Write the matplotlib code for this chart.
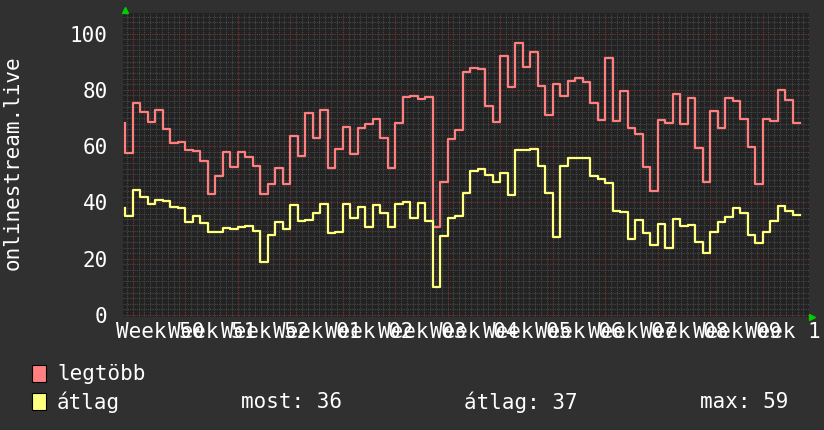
import numpy as np
import matplotlib
matplotlib.use("Agg")
import matplotlib.pyplot as plt
from matplotlib.patches import Rectangle
from matplotlib.transforms import Bbox

# daily values (first value is the start point)
legtobb = [68.1,
           57.4, 75.4, 72.2, 68.6, 72.8, 66.2, 61.2, 61.6, 58.7, 58.4, 54.8, 43.1, 49.5, 57.9, 52.7, 57.9, 56.2, 53.0,
           43.0, 46.5, 52.3, 46.5, 63.7, 56.5, 71.9, 62.9, 72.8, 52.3, 59.1, 66.9, 57.2, 66.4, 67.7, 69.7, 63.0, 52.1,
           68.4, 77.3, 77.8, 76.6, 77.6, 31.3, 47.1, 62.4, 65.7, 86.4, 87.9, 87.3, 74.2, 68.7, 92.1, 80.9, 96.7, 88.2, 93.5,
           81.5, 71.0, 82.2, 77.8, 83.2, 84.3, 82.9, 75.5, 69.3, 91.4, 69.0, 79.7, 66.5, 64.3, 52.7, 44.2, 69.3, 68.3,
           78.5, 67.9, 77.2, 59.4, 47.2, 72.6, 66.4, 77.1, 76.1, 69.7, 59.8, 46.5, 69.7, 68.8, 79.9, 76.5, 68.3]
atlag = [38.2,
         35.3, 44.4, 42.0, 39.5, 40.9, 40.5, 38.5, 38.1, 33.2, 35.3, 32.8, 29.4, 29.6, 30.9, 30.7, 31.3, 31.6, 30.0,
         18.9, 28.4, 32.9, 30.6, 39.1, 33.5, 33.7, 36.1, 39.3, 29.0, 29.6, 39.4, 34.5, 38.5, 31.4, 39.1, 36.4, 31.4,
         39.3, 40.1, 34.6, 39.9, 33.5, 10.1, 28.2, 34.5, 35.3, 43.5, 51.3, 51.9, 49.9, 47.2, 50.6, 42.7, 58.7, 58.7, 59.1,
         53.0, 43.2, 27.6, 53.0, 55.9, 55.7, 55.9, 49.5, 48.2, 47.0, 37.1, 36.6, 27.0, 33.7, 29.2, 24.9, 32.3, 23.8,
         34.1, 31.6, 32.0, 25.8, 22.1, 29.6, 33.2, 34.9, 38.1, 36.1, 28.4, 25.7, 29.5, 33.4, 38.8, 37.1, 35.6]
week_labels = ["Week 50", "Week 51", "Week 52", "Week 01", "Week 02", "Week 03", "Week 04",
               "Week 05", "Week 06", "Week 07", "Week 08", "Week 09", "Week 10"]
stats = ["most: 36", "átlag: 37", "max: 59"]

mono = "DejaVu Sans Mono"
fs = 15
outer_bg = "#303030"
plot_bg = "#222222"
red = "#ff7f7f"
yellow = "#ffff80"

fig = plt.figure(figsize=(8.24, 4.30), dpi=100, facecolor=outer_bg)
ax = fig.add_axes([123 / 824, (430 - 316.5) / 430, (809 - 123) / 824, (316.5 - 13) / 430])
ax.set_facecolor(plot_bg)

x = np.arange(len(legtobb))
xmin, xmax = -0.3, 91.2
ax.set_xlim(xmin, xmax)
ax.set_ylim(-0.5, 107.3)

# grid
for yy in np.arange(2, 108, 2):
    if yy % 20:
        ax.axhline(yy, color="#484848", lw=0.8, ls=(0, (1, 1)), zorder=1)
majors = np.arange(1, 92, 7)
minors = [m for m in np.arange(1 - 7 / 9, xmax, 7 / 9) if min(abs(m - majors)) > 0.1]
for xx in minors:
    ax.axvline(xx, color="#484848", lw=0.8, ls=(0, (1, 1)), zorder=1)
for yy in range(0, 101, 20):
    ax.axhline(yy, color="#7a3535", lw=0.8, ls=(0, (1, 1)), zorder=1.5)
for xx in majors:
    ax.axvline(xx, color="#7a3535", lw=0.8, ls=(0, (1, 1)), zorder=1.5)

ax.plot(x, legtobb, drawstyle="steps-pre", color=red, lw=1.6, zorder=3)
ax.plot(x, atlag, drawstyle="steps-pre", color=yellow, lw=1.6, zorder=3)

for s in ax.spines.values():
    s.set_visible(False)

ax.set_yticks(range(0, 101, 20))
ax.set_yticklabels([str(v) for v in range(0, 101, 20)], fontsize=fs, family=mono, color="white")
ax.set_xticks(majors + 3.6)
ax.set_xticklabels(week_labels, fontsize=fs, family=mono, color="white")
ax.tick_params(axis="y", length=0, pad=11)
ax.tick_params(axis="x", length=0, pad=4)
# the last label runs off the right edge, like in the original
clip = Bbox.from_extents(0, 0, 821, 430)
for t in ax.get_xticklabels():
    t.set_clip_box(clip)
    t.set_clip_on(True)

fig.text(13 / 824, 1 - 163 / 430, "onlinestream.live", rotation=90, fontsize=fs, family=mono,
         color="white", ha="center", va="center")

# green arrows
ax.plot([0.003], [1.01], transform=ax.transAxes, marker="^", color="#00cc00", ms=5, clip_on=False)
ax.plot([1.004], [0.0], transform=ax.transAxes, marker=">", color="#00cc00", ms=5, clip_on=False)

# legend
def px(xp, yp):
    return xp / 824, 1 - yp / 430

fig.patches.append(Rectangle(px(32, 382), 14 / 824, 17 / 430, transform=fig.transFigure,
                             facecolor="#ff8080", edgecolor="black", lw=0.8))
fig.patches.append(Rectangle(px(32, 410), 14 / 824, 17 / 430, transform=fig.transFigure,
                             facecolor="#ffff80", edgecolor="black", lw=0.8))
fig.text(*px(57, 374), "legtöbb", fontsize=fs, family=mono, color="white", va="center")
fig.text(*px(57, 402), "átlag", fontsize=fs, family=mono, color="white", va="center")
for xs, s in zip([241, 464, 700], stats):
    fig.text(*px(xs, 402), s, fontsize=fs, family=mono, color="white", va="center")

fig.savefig("out.png", dpi=100, facecolor=outer_bg)
